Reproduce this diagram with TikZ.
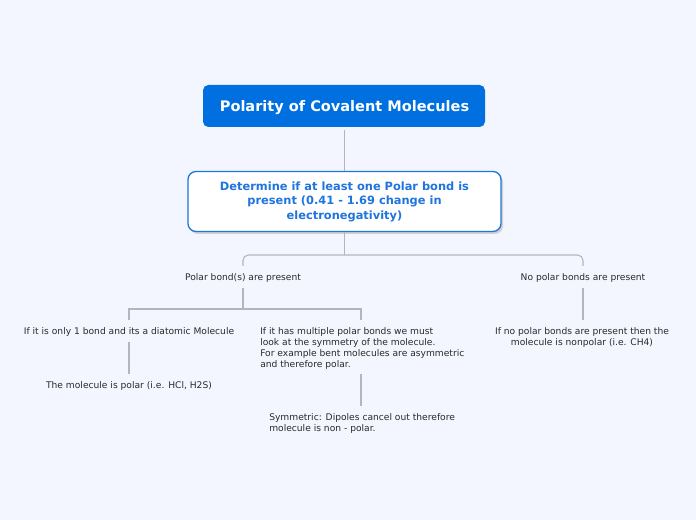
\documentclass[tikz,border=0pt]{standalone}
\usepackage{fontspec}
\setmainfont{DejaVu Sans}
\begin{document}
\begin{tikzpicture}[x=0.75pt,y=-0.75pt,
  conn/.style={draw=linegray,line width=0.8pt},
  lbl/.style={font=\fontsize{6.85}{8.3}\selectfont,text=txt,inner sep=0pt},
]
\definecolor{bg}{HTML}{F3F6FE}
\definecolor{titleblue}{HTML}{0070E0}
\definecolor{linegray}{HTML}{B0B5C0}
\definecolor{txt}{HTML}{2A2A2A}
\definecolor{boxblue}{HTML}{1F74DD}
\useasboundingbox[fill=bg] (0,0) rectangle (696,520);
% title
\node[fill=titleblue,rounded corners=4pt,minimum width=282*0.75pt,minimum height=42*0.75pt,inner sep=0pt] (title) at (344,106) {};
\node[text=white,font=\bfseries\fontsize{10.9}{13}\selectfont,inner sep=0pt] (titletext) at (344.5,107.5) {Polarity of Covalent Molecules};
% box 2
\fill[black!18,rounded corners=6pt] (190,174) rectangle (503,234);
\node[fill=white,draw=boxblue,line width=1pt,rounded corners=6pt,minimum width=313*0.75pt,minimum height=60*0.75pt,
  text=boxblue,font=\bfseries\fontsize{8.55}{10.9}\selectfont,align=center,inner sep=0pt] (det) at (344.5,201.5)
  {Determine if at least one Polar bond is\\present (0.41 - 1.69 change in\\electronegativity)};
% labels
\node[lbl] (polar) at (243,278) {Polar bond(s) are present};
\node[lbl] (nopolar) at (583,278) {No polar bonds are present};
\node[lbl] (one) at (129,332) {If it is only 1 bond and its a diatomic Molecule};
\node[lbl,align=left,anchor=north west] (multi) at (260,327.5) {If it has multiple polar bonds we must\\look at the symmetry of the molecule.\\For example bent molecules are asymmetric\\and therefore polar.};
\node[lbl] (isp) at (129,386) {The molecule is polar (i.e. HCl, H2S)};
\node[lbl,align=left,anchor=north west] (sym) at (269,413.5) {Symmetric: Dipoles cancel out therefore\\molecule is non - polar.};
\node[lbl,align=center,anchor=north] (nonp) at (582,327.5) {If no polar bonds are present then the\\molecule is nonpolar (i.e. CH4)};
% coordinates
\coordinate (a1) at (344.5,255);
\coordinate (bl) at (243,266);
\coordinate (br) at (583,266);
\coordinate (p1) at (243,309);
\coordinate (cl) at (129,320);
\coordinate (cr) at (361,320);
% connectors
\draw[conn] (title.south) ++(0.5,3) -- (det.north);
\draw[conn] (det.south) -- (a1);
\draw[conn,rounded corners=4pt] (bl) |- (a1) -| (br);
\draw[conn] (243,288) -- (p1);
\draw[conn] (cl) |- (p1) -| (cr);
\draw[conn] (129,342) -- (129,374);
\draw[conn] (361,374) -- (361,406);
\draw[conn] (583,288) -- (583,320);
\end{tikzpicture}
\end{document}
